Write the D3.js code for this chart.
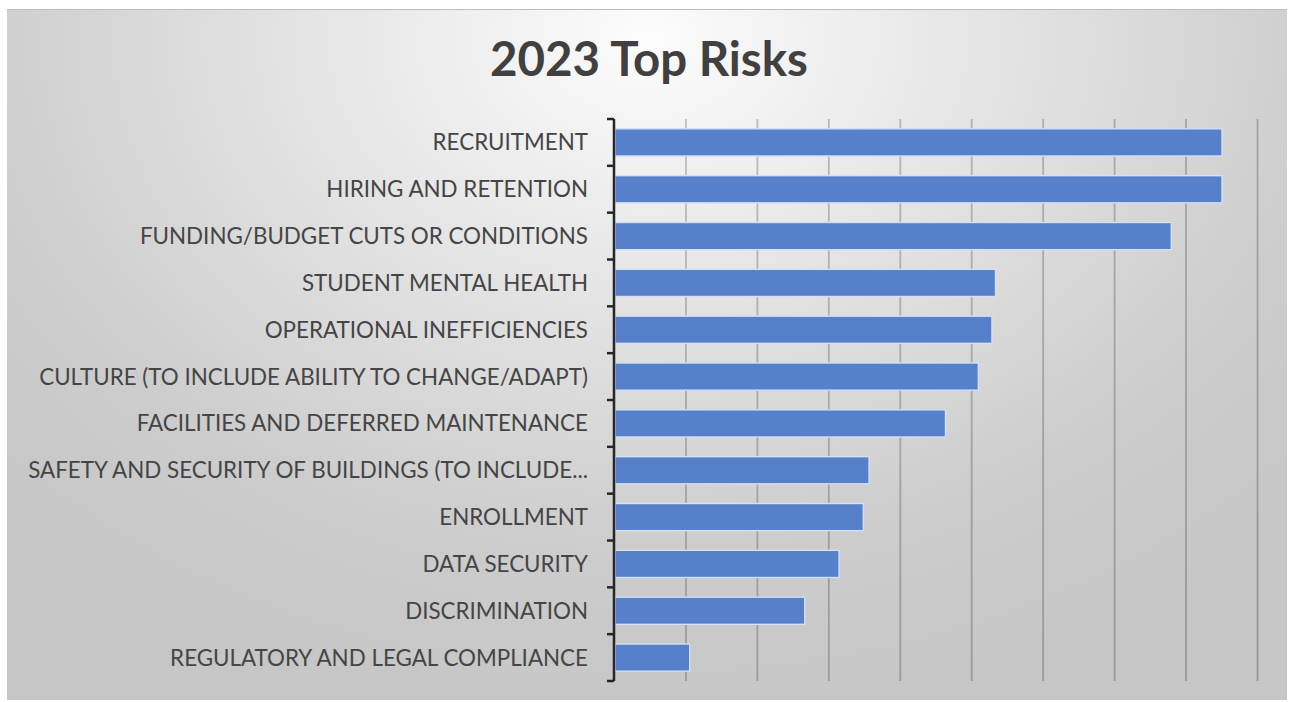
<!DOCTYPE html>
<html><head><meta charset="utf-8">
<script src="https://cdn.jsdelivr.net/npm/d3@7"></script>
<style>html,body{margin:0;padding:0;background:#fff;}svg{display:block;}</style>
</head><body>
<svg id="chart" width="1289" height="702"></svg>
<script>
const title = "2023 Top Risks";
const categories = [
  "RECRUITMENT",
  "HIRING AND RETENTION",
  "FUNDING/BUDGET CUTS OR CONDITIONS",
  "STUDENT MENTAL HEALTH",
  "OPERATIONAL INEFFICIENCIES",
  "CULTURE (TO INCLUDE ABILITY TO CHANGE/ADAPT)",
  "FACILITIES AND DEFERRED MAINTENANCE",
  "SAFETY AND SECURITY OF BUILDINGS (TO INCLUDE...",
  "ENROLLMENT",
  "DATA SECURITY",
  "DISCRIMINATION",
  "REGULATORY AND LEGAL COMPLIANCE"
];
const values = [85.1, 85.1, 78.0, 53.4, 52.9, 51.0, 46.4, 35.7, 34.9, 31.5, 26.7, 10.6];
const xTicks = [0, 10, 20, 30, 40, 50, 60, 70, 80, 90];

const svg = d3.select("#chart");
const defs = svg.append("defs");
const bg = defs.append("radialGradient").attr("id","bg")
  .attr("gradientUnits","userSpaceOnUse")
  .attr("cx",648).attr("cy",40).attr("r",900)
  .attr("gradientTransform","translate(648,40) scale(1,0.75) translate(-648,-40)");
bg.append("stop").attr("offset",0).attr("stop-color","#fcfcfc");
bg.append("stop").attr("offset",0.75).attr("stop-color","#cdcdcd");
bg.append("stop").attr("offset",1).attr("stop-color","#c6c6c6");

svg.append("rect").attr("x",7).attr("y",9).attr("width",1280).attr("height",691).attr("fill","url(#bg)");
svg.append("line").attr("x1",7).attr("x2",1287).attr("y1",9.5).attr("y2",9.5).attr("stroke","#bdbdbd");

const m = {left:614, right:1257, top:119, bottom:681};
const x = d3.scaleLinear().domain([0,90]).range([m.left, m.right]);
const y = d3.scaleBand().domain(categories).range([m.top, m.bottom]).paddingInner(0.42).paddingOuter(0.21);

// gridlines
svg.append("g").attr("transform",`translate(0,${m.bottom})`)
  .call(d3.axisBottom(x).tickValues(xTicks.slice(1)).tickSize(-(m.bottom-m.top)).tickFormat(""))
  .call(g=>g.select(".domain").remove())
  .call(g=>g.selectAll("line").attr("stroke","#000").attr("stroke-opacity",0.22).attr("stroke-width",1.8));

// bars
svg.append("g").selectAll("rect").data(categories).join("rect")
  .attr("x", x(0)+1)
  .attr("y", d=>y(d))
  .attr("width", (d,i)=>x(values[i])-x(0)-1)
  .attr("height", y.bandwidth())
  .attr("fill","#5780cb")
  .attr("stroke","#d3e0f5").attr("stroke-width",1.4);

// category axis with boundary ticks
const yAx = svg.append("g").attr("transform",`translate(${m.left},0)`);
yAx.append("line").attr("x1",0).attr("x2",0).attr("y1",m.top).attr("y2",m.bottom)
  .attr("stroke","#262626").attr("stroke-width",2.5);
const bounds = d3.range(categories.length+1).map(i=>m.top + i*(m.bottom-m.top)/categories.length);
yAx.selectAll("line.t").data(bounds).join("line").attr("class","t")
  .attr("x1",-7).attr("x2",0).attr("y1",d=>d).attr("y2",d=>d)
  .attr("stroke","#262626").attr("stroke-width",2.5);

// labels
const labels = svg.append("g").selectAll("text").data(categories).join("text")
  .attr("x",588).attr("y",d=>y(d)+y.bandwidth()/2)
  .attr("dy","0.36em").attr("text-anchor","end")
  .attr("font-family","Lato, 'Open Sans', sans-serif").attr("font-size",18)
  .attr("fill","#454545").text(d=>d);
let maxW = 0; labels.each(function(){ maxW = Math.max(maxW, this.getComputedTextLength()); });
labels.attr("font-size", 18*560/maxW);

const t = svg.append("text").attr("x",649).attr("y",76).attr("text-anchor","middle")
  .attr("font-family","Lato, 'Open Sans', sans-serif").attr("font-weight","bold")
  .attr("font-size",40).attr("fill","#404040").text(title);
const tw = t.node().getComputedTextLength();
t.attr("font-size", 40*318/tw);
</script>
</body></html>
